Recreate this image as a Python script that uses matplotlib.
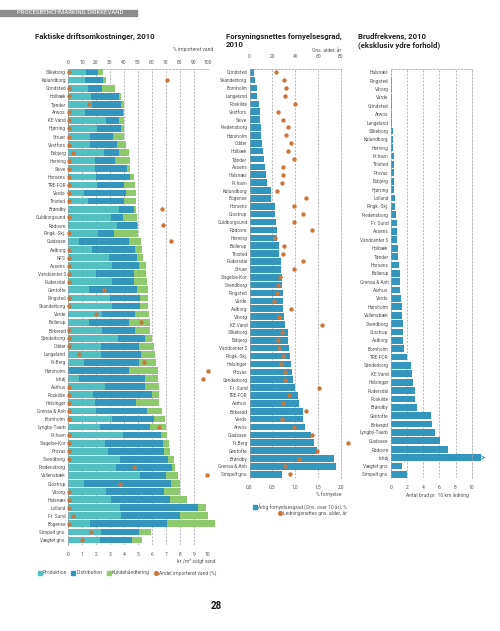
import numpy as np
import matplotlib.pyplot as plt
from matplotlib.patches import Rectangle
from matplotlib.lines import Line2D

plt.rcParams['font.family'] = ['Roboto', 'DejaVu Sans']

C_PROD = '#52bfc2'
C_DIST = '#3596bd'
C_KUNDE = '#8dca6e'
C_DOT = '#c9773f'
C_GRID = '#a0a0a0'
C_TXT = '#555555'

# --- Panel 1: Faktiske driftsomkostninger (kr./m3) ---
cost_names = ["Silkeborg", "Kalundborg", "Grindsted", "Holbæk", "Tønder", "Arwos",
              "KE Vand", "Hjørring", "Struer", "Vestfors", "Esbjerg", "Herning",
              "Skive", "Horsens", "TRE-FOR", "Verdo", "Thisted", "Brøndby",
              "Guldborgsund", "Rødovre", "Ringk.-Skj.", "Gladsaxe", "Aalborg", "NFS",
              "Assens", "Vandcenter S", "Rudersdal", "Gentofte", "Ringsted",
              "Skanderborg", "Varde", "Ballerup", "Birkerød", "Sønderborg", "Odder",
              "Langeland", "Fr.Berg", "Hørsholm", "Ishøj", "Aarhus", "Roskilde",
              "Helsingør", "Grenaa & Anh", "Bornholm", "Lyngby-Taarb", "Fr.havn",
              "Slagelse-Kor", "Provas", "Svendborg", "Fredensborg", "Vallensbæk",
              "Glostrup", "Viborg", "Halsnæs", "Lolland", "Fr. Sund", "Bogense",
              "Simpelt gns.", "Vægtet gns."]
produktion = [1.31, 1.24, 1.41, 1.67, 1.72, 1.24, 2.70, 2.08, 1.55, 1.60, 2.60, 1.96,
              1.96, 2.00, 2.08, 1.15, 1.46, 3.68, 3.10, 3.51, 2.12, 0.79, 1.74, 2.91,
              3.15, 2.03, 3.15, 1.53, 2.98, 3.17, 2.43, 1.53, 2.43, 3.60, 2.39, 2.39,
              1.17, 0.00, 0.79, 2.67, 1.81, 1.96, 2.03, 3.17, 2.31, 3.91, 2.67, 2.84,
              3.75, 3.46, 5.18, 1.15, 2.74, 3.08, 3.75, 3.82, 1.60, 2.36, 2.27]
distribution = [0.86, 1.27, 1.00, 2.01, 2.07, 2.70, 0.95, 1.71, 1.67, 1.91, 1.08, 1.38,
                2.26, 2.46, 1.91, 3.03, 2.57, 1.02, 0.84, 1.45, 1.20, 3.60, 3.08, 2.05,
                1.93, 2.72, 1.55, 3.41, 2.20, 2.01, 2.39, 2.86, 2.39, 1.91, 2.72, 2.86,
                3.94, 4.39, 4.75, 2.87, 4.18, 2.93, 3.65, 3.01, 3.58, 2.72, 4.16, 4.06,
                3.39, 4.01, 1.84, 6.25, 4.16, 4.25, 5.58, 4.22, 5.49, 2.75, 2.31]
kunde = [0.31, 0.21, 0.98, 0.11, 0.20, 0.05, 0.34, 0.20, 0.81, 0.64, 0.71, 1.12,
         0.22, 0.27, 0.83, 0.66, 0.86, 0.19, 0.98, 0.02, 1.67, 0.81, 0.48, 0.43,
         0.50, 0.86, 0.98, 0.79, 0.57, 0.57, 0.96, 1.50, 1.07, 0.48, 1.05, 0.98,
         1.19, 2.05, 0.90, 0.95, 0.53, 1.65, 1.05, 0.74, 1.10, 0.43, 0.38, 0.43,
         0.47, 0.19, 0.88, 0.60, 1.10, 1.19, 0.55, 1.96, 3.46, 0.86, 0.72]
import_pct = [1, 70.9, 1, 1, 14.8, 1, 1, 1, 1, 1, 3.3, 1,
              1, 1, 1, 1, 1, 67, 1, 68.3, 1, 73.5, 1, 1,
              1, 1, 1, 25.8, 1, 1, 19.8, 52, 1, 1, 1, 7.6,
              54.7, 100, 96.4, 1, 1, 1, 1, 1, 65.4, 1, 1, 1,
              1, 47.5, 99.5, 37.5, 1, 1, 1, 3.6, 1, 16.7, 10.3]

# --- Panel 2: Forsyningsnettes fornyelsesgrad ---
renew_names = ["Grindsted", "Skanderborg", "Bornholm", "Langeland", "Roskilde",
               "Vestfors", "Skive", "Fredensborg", "Hørsholm", "Odder", "Holbæk",
               "Tønder", "Assens", "Halsnæs", "Fr.havn", "Kalundborg", "Bogense",
               "Horsens", "Glostrup", "Guldborgsund", "Rødovre", "Herning",
               "Ballerup", "Thisted", "Rudersdal", "Struer", "Slagelse-Kor",
               "Svendborg", "Ringsted", "Varde", "Aalborg", "Viborg", "KE Vand",
               "Silkeborg", "Esbjerg", "Vandcenter S", "Ringk.-Skj.", "Helsingør",
               "Provas", "Sønderborg", "Fr. Sund", "TRE-FOR", "Aarhus", "Birkerød",
               "Verdo", "Arwos", "Gladsaxe", "Fr.Berg", "Gentofte", "Brøndby",
               "Grenaa & Anh", "Simpelt gns."]
renew_pct = [0.10, 0.12, 0.17, 0.17, 0.20, 0.23, 0.24, 0.25, 0.25, 0.28, 0.30,
             0.31, 0.33, 0.36, 0.39, 0.46, 0.46, 0.55, 0.56, 0.58, 0.60, 0.60,
             0.65, 0.65, 0.69, 0.69, 0.71, 0.71, 0.73, 0.73, 0.73, 0.76, 0.78,
             0.84, 0.84, 0.87, 0.89, 0.91, 0.93, 0.95, 1.00, 1.05, 1.08, 1.17,
             1.17, 1.21, 1.35, 1.41, 1.48, 1.85, 1.89, 0.71]
net_age = [23.5, 29.9, 32.3, 31.4, 39.9, 25.2, 29.0, 33.4, 32.0, 36.1, 34.0,
           39.0, 29.6, 29.6, 28.2, 24.0, 49.0, 39.0, 46.9, 39.0, 54.3, 22.0,
           29.9, 29.0, 46.9, 39.0, 27.0, 24.6, 23.8, 21.7, 36.7, 25.5, 63.0,
           28.2, 24.6, 25.5, 29.6, 27.3, 30.8, 30.8, 61.0, 34.3, 29.0, 49.0,
           28.2, 39.0, 54.3, 86.2, 59.2, 43.7, 31.1, 35.8]

# --- Panel 3: Brudfrekvens ---
break_names = ["Halsnæs", "Ringsted", "Viborg", "Varde", "Grindsted", "Arwos",
               "Langeland", "Silkeborg", "Kalundborg", "Herning", "Fr.havn",
               "Thisted", "Provas", "Esbjerg", "Hjørring", "Lolland", "Ringk.-Skj.",
               "Fredensborg", "Fr. Sund", "Assens", "Vandcenter S", "Holbæk",
               "Tønder", "Horsens", "Ballerup", "Grenaa & Anh", "Aarhus", "Verdo",
               "Hørsholm", "Vallensbæk", "Svendborg", "Glostrup", "Aalborg",
               "Bornholm", "TRE-FOR", "Sønderborg", "KE Vand", "Helsingør",
               "Rudersdal", "Roskilde", "Brøndby", "Gentofte", "Birkerød",
               "Lyngby-Taarb", "Gladsaxe", "Rødovre", "Ishøj", "Vægtet gns.",
               "Simpelt gns."]
breaks = [0.04, 0.12, 0.12, 0.16, 0.20, 0.20, 0.20, 0.25, 0.29, 0.29, 0.37, 0.37,
          0.41, 0.45, 0.45, 0.49, 0.53, 0.60, 0.78, 0.78, 0.82, 0.91, 0.95, 1.07,
          1.11, 1.15, 1.15, 1.32, 1.36, 1.44, 1.48, 1.48, 1.48, 1.65, 2.02, 2.51,
          2.63, 2.76, 3.00, 3.00, 3.25, 4.98, 5.10, 5.47, 6.09, 7.08, 11.15, 1.36,
          2.02]

W, H = 500, 631
fig = plt.figure(figsize=(W / 100, H / 100), dpi=100)


def fx(px):
    return px / W


def fy(py):
    return 1 - py / H


def add_ax(left, right, top, bottom):
    return fig.add_axes([fx(left), fy(bottom), fx(right - left), (bottom - top) / H])


def dashed(sp):
    sp.set_visible(True)
    sp.set_color(C_GRID)
    sp.set_linewidth(0.5)
    sp.set_linestyle((0, (3, 2)))


def style(ax, n, names, top_px, bottom_px, row0, rowN):
    step = (rowN - row0) / (n - 1)
    ax.set_ylim(n - 1 + (bottom_px - rowN) / step, -(row0 - top_px) / step)
    ax.set_yticks(range(n))
    ax.set_yticklabels(names, fontsize=3.4, color=C_TXT)
    ax.tick_params(axis='y', length=0, pad=1.5)
    ax.tick_params(axis='x', length=0, labelsize=3.6, labelcolor=C_TXT, pad=5)
    for s in ['bottom', 'right']:
        ax.spines[s].set_visible(False)
    for s in ['top', 'left']:
        dashed(ax.spines[s])
    ax.set_axisbelow(True)
    ax.grid(axis='x', color=C_GRID, lw=0.5, ls=(0, (3, 2)))


# panel 1
ax1 = add_ax(68, 207.7, 69, 545)
y1 = np.arange(len(cost_names))
prod = np.array(produktion)
dist = np.array(distribution)
kun = np.array(kunde)
kw = dict(height=0.84, clip_on=False, linewidth=0)
ax1.barh(y1, prod, color=C_PROD, **kw)
ax1.barh(y1, dist, left=prod, color=C_DIST, **kw)
ax1.barh(y1, kun, left=prod + dist, color=C_KUNDE, **kw)
ax1.scatter(np.array(import_pct) / 10, y1, s=10, color=C_DOT, zorder=4, clip_on=False,
            linewidths=0)
ax1.set_xlim(0, 10)
ax1.set_xticks(range(11))
style(ax1, len(cost_names), cost_names, 69, 545, 72, 540)
top1 = ax1.secondary_xaxis('top', functions=(lambda v: v * 10, lambda v: v / 10))
top1.set_xticks(range(0, 101, 10))
top1.tick_params(length=0, labelsize=3.6, labelcolor=C_TXT, pad=3)
top1.spines['top'].set_visible(False)
fig.text(fx(213), fy(50), "% importeret vand", fontsize=3.6, color=C_TXT,
         ha='right', va='center')
fig.text(fx(215), fy(561), "kr./m³ solgt vand", fontsize=3.6, color=C_TXT,
         ha='right', va='center')

# panel 2
ax2 = add_ax(249.5, 341, 69, 478)
y2 = np.arange(len(renew_names))
ax2.barh(y2, renew_pct, height=0.84, color=C_DIST, linewidth=0)
ax2.scatter(np.array(net_age) / 40, y2, s=10, color=C_DOT, zorder=4, clip_on=False,
            linewidths=0)
ax2.set_xlim(0, 2)
ax2.set_xticks([0, 0.5, 1, 1.5, 2])
ax2.set_xticklabels(["0,0", "0,5", "1,0", "1,5", "2,0"])
style(ax2, len(renew_names), renew_names, 69, 478, 72.3, 474.3)
dashed(ax2.spines['right'])
top2 = ax2.secondary_xaxis('top', functions=(lambda v: v * 40, lambda v: v / 40))
top2.set_xticks(range(0, 81, 20))
top2.tick_params(length=0, labelsize=3.6, labelcolor=C_TXT, pad=7)
top2.spines['top'].set_visible(False)
fig.text(fx(341), fy(50.7), "Gns. alder, år", fontsize=3.6, color=C_TXT,
         ha='right', va='center')
fig.text(fx(341), fy(494), "% fornyelse", fontsize=3.6, color=C_TXT,
         ha='right', va='center')

# panel 3
ax3 = add_ax(390.7, 471.7, 69, 478)
y3 = np.arange(len(break_names))
ax3.barh(y3, breaks, height=0.8, color=C_DIST, linewidth=0, clip_on=False)
ax3.set_xlim(0, 10)
ax3.set_xticks(range(0, 11, 2))
style(ax3, len(break_names), break_names, 69, 478, 72.3, 474.3)
dashed(ax3.spines['right'])
i_max = int(np.argmax(breaks))
ax3.annotate("", xy=(breaks[i_max] + 0.9, i_max), xytext=(breaks[i_max] - 0.1, i_max),
             arrowprops=dict(arrowstyle='->', color=C_DIST, lw=0.6),
             annotation_clip=False)
fig.text(fx(437.7), fy(495.3), "Antal brud pr. 10 km ledning", fontsize=3.6,
         color=C_TXT, ha='center', va='center')

# titles
fig.text(fx(35), fy(36), "Faktiske driftsomkostninger, 2010", fontsize=5.6,
         fontweight='bold', color='#222222', va='center')
fig.text(fx(225.7), fy(33), "Forsyningsnettes fornyelsesgrad,\n2010", fontsize=5.6,
         fontweight='bold', color='#222222', va='top', linespacing=1.15)
fig.text(fx(357.7), fy(33), "Brudfrekvens, 2010\n(eksklusiv ydre forhold)",
         fontsize=5.6, fontweight='bold', color='#222222', va='top', linespacing=1.15)

# header band and page number
fig.patches.append(Rectangle((0, fy(15.5)), fx(137), 5.5 / H, transform=fig.transFigure,
                             color='#8c8c8c', zorder=0))
fig.text(fx(17), fy(12.7), "PROCESBENCHMARKING DRIKKEVAND", fontsize=4.3, color='white',
         va='center')
fig.text(fx(216), fy(606), "28", fontsize=7, fontweight='bold', color='#111111',
         ha='center', va='center')


# legends
def sq(c):
    return Line2D([], [], marker='s', ls='', color=c, markersize=2.6)


def dot(c):
    return Line2D([], [], marker='o', ls='', color=c, markersize=2.6)


fig.legend([sq(C_PROD), sq(C_DIST), sq(C_KUNDE), dot(C_DOT)],
           ["Produktion", "Distribution", "Kundehåndtering", "Andel importeret vand (%)"],
           loc='center', bbox_to_anchor=(fx(127), fy(572.7)), ncol=4, frameon=False,
           fontsize=3.6, labelcolor=C_TXT, handletextpad=0.2, columnspacing=0.9,
           handlelength=0.8)
fig.legend([sq(C_DIST)], ["Årlig fornyelsesgrad (Gns. over 10 år), %"],
           loc='center right', bbox_to_anchor=(fx(347), fy(506.5)), frameon=False,
           fontsize=3.6, labelcolor=C_TXT, handletextpad=0.2, handlelength=0.8,
           borderpad=0, borderaxespad=0)
fig.legend([dot(C_DOT)], ["Ledningsnettes gns. alder, år"],
           loc='center right', bbox_to_anchor=(fx(347), fy(513)), frameon=False,
           fontsize=3.6, labelcolor=C_TXT, handletextpad=0.2, handlelength=0.8,
           borderpad=0, borderaxespad=0)

fig.savefig("out.png", dpi=100)
